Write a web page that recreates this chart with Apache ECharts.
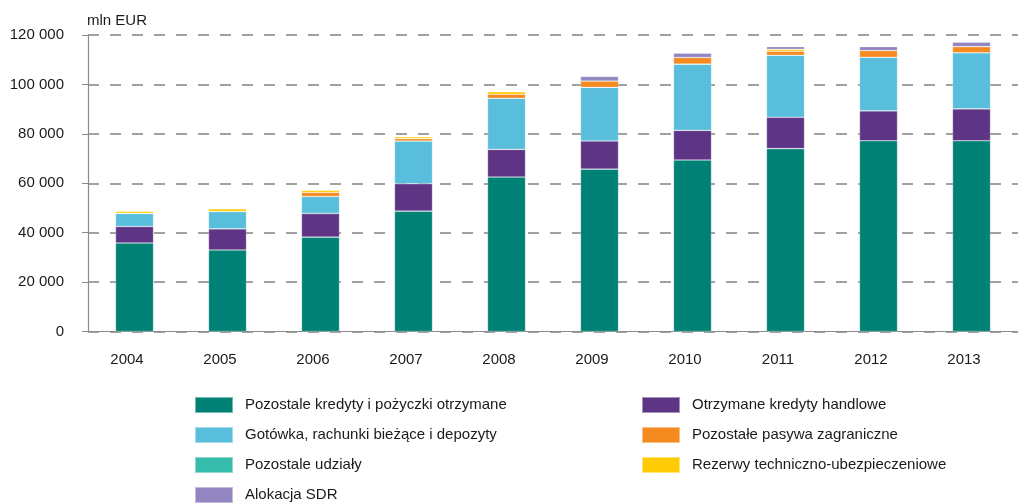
<!DOCTYPE html>
<html>
<head>
<meta charset="utf-8">
<script src="https://cdn.jsdelivr.net/npm/echarts@6/dist/echarts.min.js"></script>
<style>html,body{margin:0;padding:0;background:#fff}#c{width:1018px;height:504px}</style>
</head>
<body>
<div id="c"></div>
<script>
var years = ['2004','2005','2006','2007','2008','2009','2010','2011','2012','2013'];
var yTicks = [0, 20000, 40000, 60000, 80000, 100000, 120000];
var kredytyPozostale = [35800, 33000, 38200, 48700, 62500, 65700, 69400, 74000, 77200, 77200];
var kredytyHandlowe = [6700, 8550, 9550, 11100, 11200, 11400, 12000, 12700, 12100, 12900];
var gotowka = [5300, 7000, 6900, 17300, 20700, 21700, 26800, 25100, 21700, 22700];
var udzialy = [0, 0, 0, 0, 0, 0, 0, 0, 0, 0];
var pasywa = [0, 0, 1600, 950, 1600, 2600, 2700, 1600, 2700, 2500];
var rezerwy = [900, 1100, 950, 800, 1100, 0, 0, 800, 0, 0];
var sdr = [0, 0, 0, 0, 0, 1800, 1700, 1100, 1600, 1800];

var names = {
  kp: 'Pozostale kredyty i pożyczki otrzymane',
  kh: 'Otrzymane kredyty handlowe',
  g: 'Gotówka, rachunki bieżące i depozyty',
  pp: 'Pozostałe pasywa zagraniczne',
  u: 'Pozostale udziały',
  r: 'Rezerwy techniczno-ubezpieczeniowe',
  s: 'Alokacja SDR'
};
var colors = {kp:'#008175', kh:'#5e3585', g:'#58bedb', pp:'#f58a20', u:'#36bcab', r:'#ffcb05', s:'#9285c0'};

function fmt(v){ return String(v).replace(/\B(?=(\d{3})+(?!\d))/g, ' '); }
function bar(key, data){
  return {
    name: names[key], type: 'bar', stack: 'total', data: data, barWidth: 38,
    itemStyle: {color: colors[key], borderColor: 'rgba(255,255,255,0.45)', borderWidth: 0.6},
    emphasis: {disabled: true}
  };
}
var font = 'Liberation Sans, Arial, sans-serif';
var legendBase = {orient: 'vertical', top: 391, height: 120, itemWidth: 38, itemHeight: 16, itemGap: 12,
  icon: 'rect', selectedMode: false,
  textStyle: {fontFamily: font, fontSize: 15, color: '#1a1a1a', padding: [0,0,0,7], lineHeight: 18}};
var chart = echarts.init(document.getElementById('c'), null, {renderer: 'canvas'});
chart.setOption({
  animation: false,
  backgroundColor: '#ffffff',
  title: {text: 'mln EUR', left: 82, top: 8, textStyle: {fontFamily: font, fontSize: 15, fontWeight: 'normal', color: '#1a1a1a'}},
  grid: {left: 88, right: -11, top: 35, bottom: 172.5, containLabel: false},
  legend: [
    Object.assign({}, legendBase, {left: 189, data: [names.kp, names.g, names.u, names.s]}),
    Object.assign({}, legendBase, {left: 636, data: [names.kh, names.pp, names.r]})
  ],
  xAxis: {
    type: 'category', data: years, boundaryGap: true,
    axisLine: {lineStyle: {color: '#8c8c8c', width: 1.2}},
    axisTick: {inside: true, length: 7, lineStyle: {color: '#8c8c8c'}},
    axisLabel: {fontFamily: font, fontSize: 15, color: '#1a1a1a', margin: 21, padding: [0, 15, 0, 0]}
  },
  yAxis: {
    type: 'value', min: yTicks[0], max: yTicks[yTicks.length-1], interval: 20000,
    axisLine: {show: true, lineStyle: {color: '#8c8c8c', width: 1.2}},
    axisTick: {show: true, length: 6, lineStyle: {color: '#8c8c8c'}},
    axisLabel: {fontFamily: font, fontSize: 15, color: '#1a1a1a', margin: 24, formatter: function(v){ return fmt(v); }},
    splitLine: {show: true, lineStyle: {color: '#8a8a8a', width: 1.6, type: [11, 11]}}
  },
  series: [
    bar('kp', kredytyPozostale),
    bar('kh', kredytyHandlowe),
    bar('g', gotowka),
    bar('u', udzialy),
    bar('pp', pasywa),
    bar('r', rezerwy),
    bar('s', sdr)
  ]
});
</script>
</body>
</html>
